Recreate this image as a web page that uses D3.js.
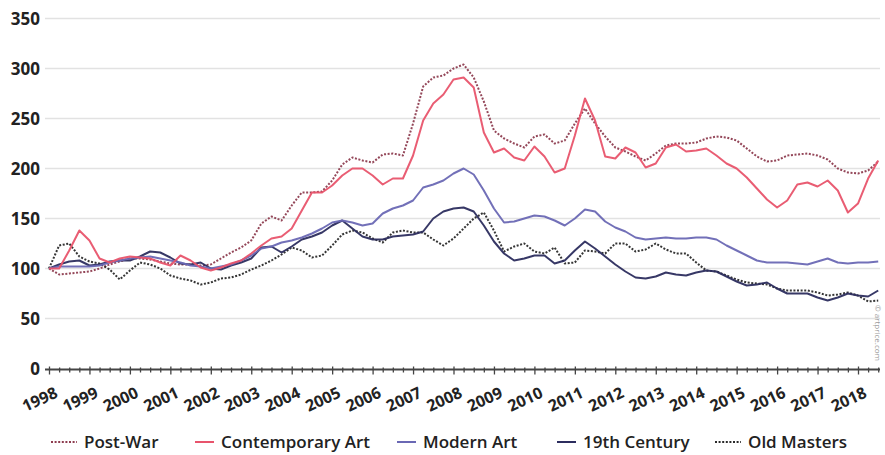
<!DOCTYPE html>
<html>
<head>
<meta charset="utf-8">
<script src="https://cdn.jsdelivr.net/npm/d3@7"></script>
<style>
  html, body { margin: 0; padding: 0; background: #fff; }
  svg { display: block; font-family: "Open Sans", "DejaVu Sans", sans-serif; }
</style>
</head>
<body>
<svg id="chart" width="885" height="455"></svg>
<script>
// ---- data (quarterly index values, 1998 Q1 = 100) ----
const startYear = 1998;
const yearTicks = [1998,1999,2000,2001,2002,2003,2004,2005,2006,2007,2008,2009,2010,2011,2012,2013,2014,2015,2016,2017,2018];
const yTicks = [0,50,100,150,200,250,300,350];

const postWar = [
100,94,95,96, 97,100,104,107, 110,110,109,107, 105,104,104,103,
104,110,116,121, 128,145,152,148, 163,176,176,177, 188,204,211,208,
206,214,215,213, 245,282,291,293, 300,304,291,267, 238,230,225,221,
232,234,225,228, 245,260,245,232, 221,217,212,208, 215,223,225,225,
226,230,232,231, 228,220,212,207, 208,213,214,215, 213,209,200,196,
195,198,207];

const contemporary = [
100,100,118,138, 128,110,106,110, 112,111,110,106, 103,113,108,101,
98,101,105,108, 115,123,130,132, 140,158,176,176, 183,193,200,200,
193,184,190,190, 213,248,265,274, 289,291,281,236, 216,220,211,208,
222,212,196,200, 233,270,248,212, 210,221,216,201, 205,221,224,217,
218,220,213,205, 200,191,180,169, 161,168,184,186, 182,188,178,156,
165,190,208];

const modern = [
100,102,102,102, 102,103,106,108, 110,111,112,110, 108,106,103,102,
100,102,104,108, 113,120,122,126, 128,131,135,140, 146,148,146,143,
145,155,160,163, 168,181,184,188, 195,200,194,178, 160,146,147,150,
153,152,148,143, 150,159,157,147, 141,137,131,129, 130,131,130,130,
131,131,129,123, 118,113,108,106, 106,106,105,104, 107,110,106,105,
106,106,107];

const nineteenth = [
100,104,107,108, 103,104,107,108, 108,112,117,116, 111,105,104,106,
100,99,103,106, 110,121,122,116, 122,129,132,136, 143,148,140,132,
129,129,132,133, 134,137,150,157, 160,161,157,143, 127,115,108,110,
113,113,105,108, 118,127,120,112, 104,97,91,90, 92,96,94,93,
96,98,97,92, 87,83,84,86, 80,75,75,75, 71,68,71,75,
73,72,78];

const oldMasters = [
100,123,125,112, 107,105,99,89, 98,106,104,100, 93,90,88,84,
86,90,91,94, 99,103,108,114, 121,118,111,113, 123,134,138,136,
130,126,136,138, 136,136,129,123, 130,140,150,156, 138,117,122,125,
117,115,121,105, 106,118,117,115, 125,125,117,119, 125,119,115,115,
106,98,97,93, 89,86,85,84, 80,78,78,78, 76,73,74,76,
73,67,68];

const seriesNames = ["Post-War","Contemporary Art","Modern Art","19th Century","Old Masters"];
const seriesValues = [postWar, contemporary, modern, nineteenth, oldMasters];
const seriesColors = ["#8e3d50","#e8546c","#6a68b4","#2c2d5e","#2a2a2a"];
const seriesDashed = [true,false,false,false,true];

// ---- layout ----
const svg = d3.select("#chart");
const x = d3.scaleLinear().domain([1998, 2018]).range([49, 858]);
const y = d3.scaleLinear().domain([0, 350]).range([368.5, 18.5]);
const gridX0 = 45, gridX1 = 880;

// grid lines
svg.append("g").selectAll("line").data(yTicks.filter(d => d > 0)).join("line")
  .attr("x1", gridX0).attr("x2", gridX1)
  .attr("y1", d => y(d)).attr("y2", d => y(d))
  .attr("stroke", "#e2e2e2").attr("stroke-width", 1.6);

// y labels
svg.append("g").selectAll("text").data(yTicks).join("text")
  .attr("x", 40).attr("y", d => y(d)).attr("dy", "0.36em")
  .attr("text-anchor", "end")
  .attr("font-size", 17).attr("font-weight", 700).attr("fill", "#222")
  .text(d => d);

// lines
const line = d3.line()
  .x((d, i) => x(startYear + i * 0.25))
  .y(d => y(d));

const order = [0, 4, 3, 2, 1];
order.forEach(k => {
  svg.append("path")
    .datum(seriesValues[k])
    .attr("d", line)
    .attr("fill", "none")
    .attr("stroke", seriesColors[k])
    .attr("stroke-width", 2)
    .attr("stroke-dasharray", seriesDashed[k] ? "2,1.6" : null)
    .attr("stroke-linejoin", "round")
    .attr("opacity", 0.95);
});

// x axis
const xAxis = d3.axisBottom(x)
  .tickValues(d3.range(1998, 2018.76, 0.25))
  .tickSize(4)
  .tickFormat("");
const gx = svg.append("g").attr("transform", `translate(0,${y(0) + 1})`).call(xAxis);
gx.select(".domain").attr("stroke", "#444").attr("stroke-width", 2)
  .attr("d", `M${gridX0},0H${gridX1}`);
gx.selectAll(".tick line").attr("stroke", "#444").attr("stroke-width", 1.3)
  .attr("y1", d => Number.isInteger(d) ? -3 : -2)
  .attr("y2", d => Number.isInteger(d) ? 5 : 3);

svg.append("g").selectAll("text").data(yearTicks).join("text")
  .attr("transform", d => `translate(${x(d) + 5},${y(0) + 18}) rotate(-25)`)
  .attr("text-anchor", "end")
  .attr("dy", "0.7em")
  .attr("font-size", 16).attr("font-weight", 700).attr("fill", "#222")
  .text(d => d);

// watermark
svg.append("text")
  .attr("transform", "translate(875,305) rotate(90)")
  .attr("font-size", 8).attr("fill", "#999")
  .text("© artprice.com");

// legend
const legendX = [51, 195, 397, 557, 715];
const legendY = 442;
const lg = svg.append("g");
seriesNames.forEach((name, k) => {
  const g = lg.append("g").attr("transform", `translate(${legendX[k]},${legendY})`);
  const w = seriesDashed[k] ? 26 : 19;
  g.append("line").attr("x1", 0).attr("x2", w).attr("y1", 0).attr("y2", 0)
    .attr("stroke", seriesColors[k]).attr("stroke-width", 2)
    .attr("stroke-dasharray", seriesDashed[k] ? "2,1.6" : null);
  g.append("text").attr("x", w + 7).attr("y", 0).attr("dy", "0.35em")
    .attr("font-size", 17).attr("font-weight", 600).attr("fill", "#222")
    .text(name);
});
</script>
</body>
</html>
